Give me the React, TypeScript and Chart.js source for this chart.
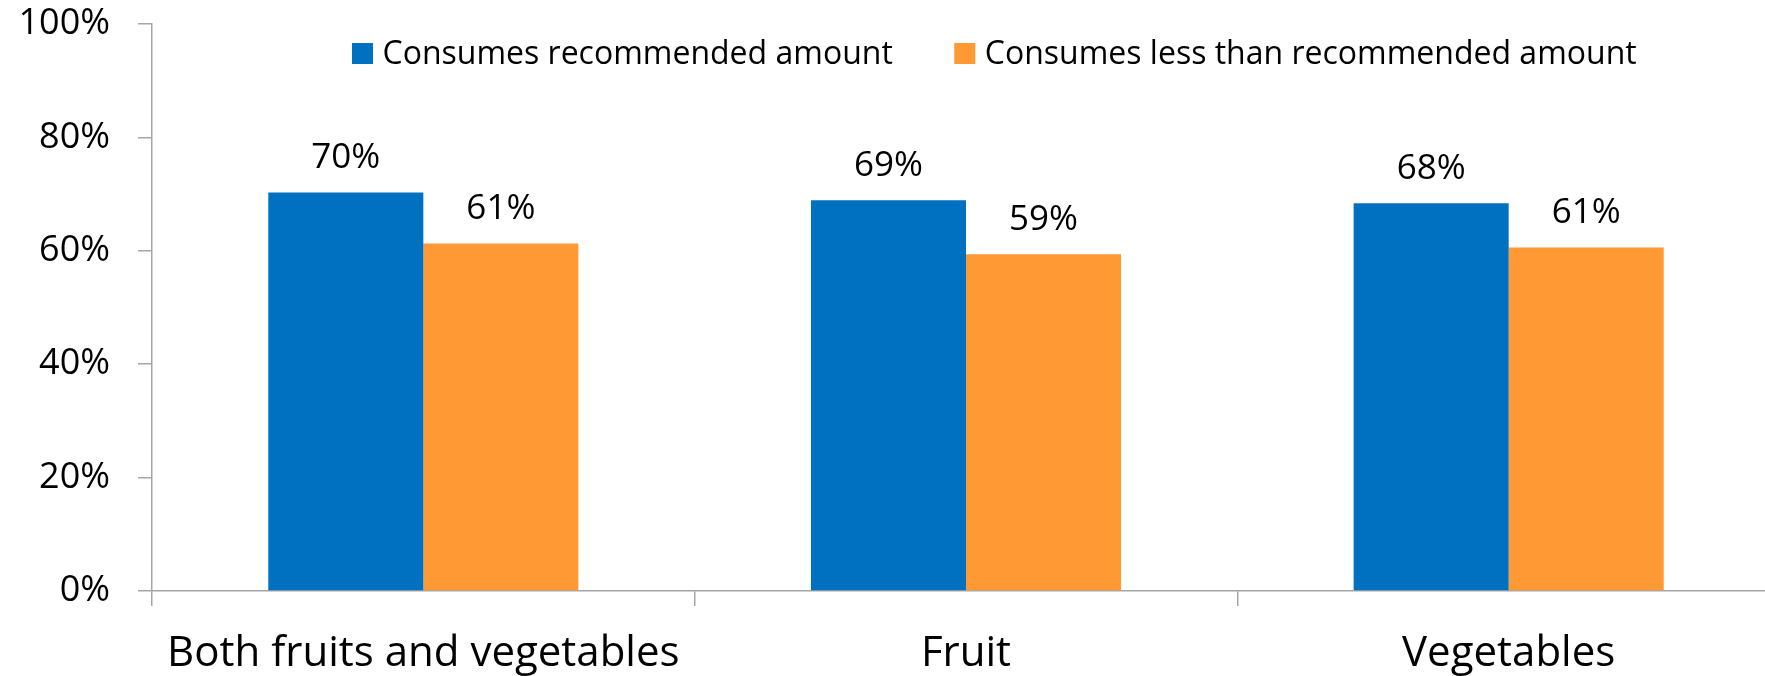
import { useEffect, useRef } from 'react';
import { Chart, registerables } from 'chart.js';

Chart.register(...registerables);

const categories = ['Both fruits and vegetables', 'Fruit', 'Vegetables'];
const recommended = [70.3, 68.9, 68.4];
const lessThanRecommended = [61.3, 59.4, 60.6];
const seriesNames = ['Consumes recommended amount', 'Consumes less than recommended amount'];
const seriesColors = ['#0070C0', '#FF9933'];
const yMin = 0;
const yMax = 100;
const yStep = 20;

const FONT = "'Open Sans', sans-serif";
const GRID = '#a6a6a6';

const legendPlugin = {
  id: 'customLegend',
  afterDraw(chart: any) {
    const ctx = chart.ctx;
    ctx.save();
    ctx.font = `32px ${FONT}`;
    ctx.textBaseline = 'alphabetic';
    ctx.textAlign = 'left';
    let x = 352;
    const box = 21;
    const boxTop = 43;
    const baseline = 63.5;
    chart.data.datasets.forEach((ds: any) => {
      ctx.fillStyle = ds.backgroundColor;
      ctx.fillRect(x, boxTop, box, box);
      x += box + 9.5;
      ctx.fillStyle = '#000';
      ctx.fillText(ds.label, x, baseline);
      x += ctx.measureText(ds.label).width + 61.5;
    });
    ctx.restore();
  },
};

const valueLabelPlugin = {
  id: 'valueLabels',
  afterDatasetsDraw(chart: any) {
    const ctx = chart.ctx;
    ctx.save();
    ctx.font = `35px ${FONT}`;
    ctx.fillStyle = '#000';
    ctx.textAlign = 'center';
    ctx.textBaseline = 'alphabetic';
    chart.data.datasets.forEach((ds: any, i: number) => {
      const meta = chart.getDatasetMeta(i);
      meta.data.forEach((bar: any, j: number) => {
        ctx.fillText(`${Math.round(ds.data[j])}%`, bar.x, bar.y - 24.5);
      });
    });
    ctx.restore();
  },
};

export default function App() {
  const canvasRef = useRef<HTMLCanvasElement | null>(null);

  useEffect(() => {
    if (!canvasRef.current) return;
    const chart = new Chart(canvasRef.current, {
      type: 'bar',
      data: {
        labels: categories,
        datasets: [
          {
            label: seriesNames[0],
            data: recommended,
            backgroundColor: seriesColors[0],
            borderWidth: 0,
          },
          {
            label: seriesNames[1],
            data: lessThanRecommended,
            backgroundColor: seriesColors[1],
            borderWidth: 0,
          },
        ],
      },
      options: {
        responsive: false,
        animation: false,
        devicePixelRatio: 1,
        layout: { padding: { top: 24, left: 0, right: 0, bottom: 0 } },
        datasets: {
          bar: { categoryPercentage: 0.5714, barPercentage: 1 },
        },
        plugins: {
          legend: { display: false },
          tooltip: { enabled: false },
        },
        scales: {
          x: {
            grid: {
              display: true,
              drawOnChartArea: false,
              drawTicks: true,
              tickLength: 15,
              color: GRID,
              lineWidth: 1.5,
              offset: true,
            },
            border: { display: true, color: GRID, width: 1.5 },
            ticks: {
              font: { family: FONT, size: 42 },
              color: '#000',
              padding: 23,
              maxRotation: 0,
              autoSkip: false,
            },
            afterFit: (s: any) => {
              s.height = 85;
              s.paddingLeft = 0;
              s.paddingRight = 0;
            },
          },
          y: {
            min: yMin,
            max: yMax,
            ticks: {
              stepSize: yStep,
              callback: (v: any) => `${v}%`,
              font: { family: FONT, size: 36 },
              color: '#000',
              padding: 28,
            },
            grid: {
              display: true,
              drawOnChartArea: false,
              drawTicks: true,
              tickLength: 14,
              color: GRID,
              lineWidth: 1.5,
            },
            border: { display: true, color: GRID, width: 1.5 },
            afterFit: (s: any) => {
              s.width = 152;
              s.paddingTop = 0;
              s.paddingBottom = 0;
            },
          },
        },
      },
      plugins: [valueLabelPlugin, legendPlugin],
    });
    return () => chart.destroy();
  }, []);

  return (
    <div
      style={{
        position: 'absolute',
        left: 0,
        top: 0,
        width: 1765,
        height: 676,
        overflow: 'hidden',
        background: '#fff',
      }}
    >
      <canvas ref={canvasRef} width={1780} height={676} style={{ display: 'block' }} />
    </div>
  );
}
